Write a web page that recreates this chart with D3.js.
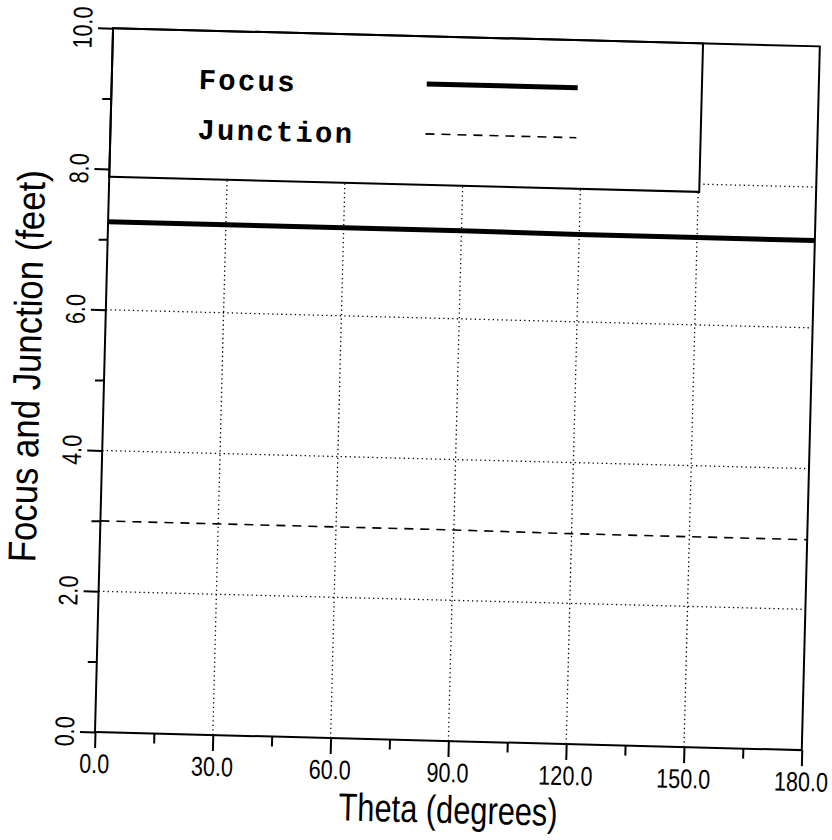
<!DOCTYPE html>
<html>
<head>
<meta charset="utf-8">
<script src="https://cdn.jsdelivr.net/npm/d3@7"></script>
<style>
  body { margin: 0; background: #fff; }
  svg { display: block; }
</style>
</head>
<body>
<script>
// values
var thetaValues = [0, 30, 60, 90, 120, 150, 180];
var focusValues = [7.25, 7.25, 7.25, 7.25, 7.24, 7.24, 7.24];
var junctionValues = [3.0, 3.0, 3.0, 3.0, 2.99, 2.99, 2.99];

var xMajorTicks = [0, 30, 60, 90, 120, 150, 180];
var xMinorTicks = [15, 45, 75, 105, 135, 165];
var yMajorTicks = [0, 2, 4, 6, 8, 10];
var yMinorTicks = [1, 3, 5, 7, 9];
var xGrid = [30, 60, 90, 120, 150];
var yGrid = [2, 4, 6, 8];

var legendItems = ['Focus', 'Junction'];
var legendBoxBottom = 7.89;

var width = 707, height = 704;
var tickFont = 'Liberation Sans, Arial, sans-serif';

var svg = d3.select('body').append('svg')
	.attr('width', 832)
	.attr('height', 840);

// the page was scanned a little askew, so the whole plot is turned
var domPlot = svg.append('g')
	.attr('transform', 'translate(95,732) rotate(1.47) translate(0,' + (-height) + ')');

var x = d3.scaleLinear().domain([0, 180]).range([0, width]);
var y = d3.scaleLinear().domain([0, 10]).range([height, 0]);

// dotted grid
domPlot.append('g').selectAll('line.h')
	.data(yGrid)
	.enter().append('line')
	.attr('x1', 0).attr('x2', width)
	.attr('y1', d => y(d)).attr('y2', d => y(d))
	.attr('stroke', '#000').attr('stroke-width', 1.3)
	.attr('stroke-dasharray', '1.3,3.2');

domPlot.append('g').selectAll('line.v')
	.data(xGrid)
	.enter().append('line')
	.attr('x1', d => x(d)).attr('x2', d => x(d))
	.attr('y1', height).attr('y2', y(legendBoxBottom))
	.attr('stroke', '#000').attr('stroke-width', 1.3)
	.attr('stroke-dasharray', '1.3,3.2');

// data lines
var line = d3.line()
	.x((d, i) => x(thetaValues[i]))
	.y(d => y(d));

domPlot.append('path')
	.datum(focusValues)
	.attr('d', line)
	.attr('fill', 'none')
	.attr('stroke', '#000')
	.attr('stroke-width', 5);

domPlot.append('path')
	.datum(junctionValues)
	.attr('d', line)
	.attr('fill', 'none')
	.attr('stroke', '#000')
	.attr('stroke-width', 1.6)
	.attr('stroke-dasharray', '9,7');

// legend box, white so it hides the grid beneath it
var boxRight = x(150) + 1;
domPlot.append('rect')
	.attr('x', 0).attr('y', 0)
	.attr('width', boxRight)
	.attr('height', y(legendBoxBottom))
	.attr('fill', '#fff')
	.attr('stroke', '#000')
	.attr('stroke-width', 2);

var domLegend = domPlot.append('g');
legendItems.forEach((name, i) => {
	var baseY = 58.6 + i * 50;
	domLegend.append('text')
		.attr('x', 87)
		.attr('y', baseY)
		.attr('font-family', 'Liberation Mono, Courier New, monospace')
		.attr('font-weight', 'bold')
		.attr('font-size', 29)
		.attr('letter-spacing', 2.2)
		.text(name);
	var domSample = domLegend.append('line')
		.attr('x1', 315).attr('x2', 466)
		.attr('y1', baseY - 11).attr('y2', baseY - 11)
		.attr('stroke', '#000');
	if (i === 0) {
		domSample.attr('stroke-width', 5);
	} else {
		domSample.attr('stroke-width', 1.6).attr('stroke-dasharray', '9,7');
	}
});

// frame
domPlot.append('rect')
	.attr('x', 0).attr('y', 0)
	.attr('width', width).attr('height', height)
	.attr('fill', 'none')
	.attr('stroke', '#000')
	.attr('stroke-width', 2);

// ticks through d3 axes, labels drawn separately
function styleAxis(g) {
	g.select('.domain').remove();
	g.selectAll('.tick line').attr('stroke', '#000').attr('stroke-width', 2);
	g.selectAll('.tick text').remove();
}

domPlot.append('g')
	.attr('transform', 'translate(0,' + height + ')')
	.call(d3.axisBottom(x).tickValues(xMajorTicks).tickSize(16).tickFormat(''))
	.call(styleAxis);
domPlot.append('g')
	.attr('transform', 'translate(0,' + height + ')')
	.call(d3.axisBottom(x).tickValues(xMinorTicks).tickSize(10).tickFormat(''))
	.call(styleAxis);
domPlot.append('g')
	.call(d3.axisLeft(y).tickValues(yMajorTicks).tickSize(15).tickFormat(''))
	.call(styleAxis);
domPlot.append('g')
	.call(d3.axisLeft(y).tickValues(yMinorTicks).tickSize(9).tickFormat(''))
	.call(styleAxis);

var fmt = d3.format('.1f');

domPlot.append('g').selectAll('text')
	.data(xMajorTicks)
	.enter().append('text')
	.attr('transform', d => 'translate(' + x(d) + ',' + (height + 41) + ') scale(0.8,1)')
	.attr('text-anchor', 'middle')
	.attr('font-family', tickFont)
	.attr('font-size', 27)
	.text(d => fmt(d));

domPlot.append('g').selectAll('text')
	.data(yMajorTicks)
	.enter().append('text')
	.attr('transform', d => 'translate(-21,' + y(d) + ') rotate(-90) scale(0.8,1)')
	.attr('text-anchor', 'middle')
	.attr('font-family', tickFont)
	.attr('font-size', 27)
	.text(d => fmt(d));

// axis titles
domPlot.append('text')
	.attr('x', 355)
	.attr('y', height + 82)
	.attr('text-anchor', 'middle')
	.attr('font-family', tickFont)
	.attr('font-size', 39)
	.attr('textLength', 219)
	.attr('lengthAdjust', 'spacingAndGlyphs')
	.text('Theta (degrees)');

domPlot.append('text')
	.attr('transform', 'translate(-64,340) rotate(-90)')
	.attr('text-anchor', 'middle')
	.attr('font-family', tickFont)
	.attr('font-size', 39)
	.attr('textLength', 392)
	.attr('lengthAdjust', 'spacingAndGlyphs')
	.text('Focus and Junction (feet)');
</script>
</body>
</html>
